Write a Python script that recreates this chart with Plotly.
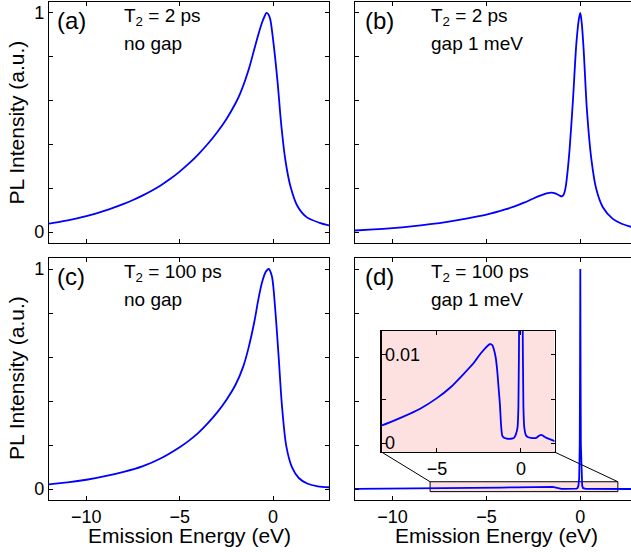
import plotly.graph_objects as go

# ---------------- data ----------------
# (a) T2 = 2 ps, no gap
xa = [-12, -11.5, -11, -10.5, -10, -9.5, -9, -8.5, -8, -7.5, -7, -6.5, -6, -5.5, -5, -4.5, -4,
      -3.5, -3, -2.5, -2, -1.75, -1.5, -1.25, -1.0, -0.8, -0.6, -0.45, -0.35, -0.25, -0.15,
      0.03, 0.25, 0.43, 0.66, 0.93, 1.3, 1.8, 2.5, 3.0]
ya = [0.038, 0.0449, 0.0528, 0.0619, 0.0723, 0.0841, 0.0974, 0.1122, 0.1285, 0.1464, 0.1663,
      0.1886, 0.2139, 0.2429, 0.2759, 0.3132, 0.355, 0.4018, 0.4546, 0.5151, 0.5889, 0.6345,
      0.6908, 0.757, 0.835, 0.897, 0.953, 0.985, 1.0, 0.994, 0.972, 0.86, 0.68, 0.50, 0.33,
      0.21, 0.12, 0.068, 0.042, 0.03]

# (b) T2 = 2 ps, gap 1 meV
xb = [-12, -11, -10, -9, -8, -7, -6, -5, -4, -3.5, -3, -2.5, -2.1, -1.8, -1.55, -1.3, -1.1,
      -0.98, -0.88, -0.78, -0.68, -0.57, -0.39, -0.21, -0.08, 0, 0.08, 0.18, 0.35, 0.59, 0.85,
      1.2, 1.73, 2.2, 2.75]
yb = [0.007, 0.012, 0.018, 0.026, 0.036, 0.048, 0.062, 0.079, 0.103, 0.117, 0.134, 0.153, 0.167,
      0.176, 0.18, 0.175, 0.166, 0.163, 0.172, 0.205, 0.275, 0.378, 0.604, 0.861, 0.97, 1.0, 0.95,
      0.83, 0.56, 0.332, 0.196, 0.113, 0.06, 0.038, 0.023]

# (c) T2 = 100 ps, no gap
xc = [-12, -11, -10, -9, -8, -7, -6, -5, -4.5, -4, -3.5, -3, -2.5, -2, -1.6, -1.3, -1.0, -0.8,
      -0.6, -0.4, -0.23, -0.06, 0.12, 0.30, 0.48, 0.71, 1.02, 1.38, 1.83, 2.4, 3.0]
yc = [0.021, 0.03, 0.042, 0.058, 0.078, 0.103, 0.14, 0.19, 0.22, 0.255, 0.298, 0.347, 0.405, 0.475,
      0.555, 0.645, 0.76, 0.855, 0.935, 0.985, 1.0, 0.967, 0.816, 0.604, 0.378, 0.196, 0.098, 0.05,
      0.025, 0.012, 0.008]

# (d) T2 = 100 ps, gap 1 meV (also shown in the inset)
xd = [-12, -11, -10, -9, -8.3, -7, -6, -5, -4.2, -3.43, -2.8, -2.42, -2.1, -1.86, -1.7, -1.62,
      -1.5, -1.41, -1.33, -1.25, -1.18, -1.11, -1.0, -0.81, -0.6, -0.41, -0.3, -0.2, -0.15,
      -0.1, -0.06, -0.03, -0.015, 0, 0.015, 0.03, 0.06, 0.1, 0.15, 0.2, 0.3, 0.4, 0.6, 0.91,
      1.05, 1.21, 1.35, 1.52, 1.8, 2.08, 2.4, 2.75]
yd = [0.0008, 0.0011, 0.0014, 0.0017, 0.002, 0.003, 0.0039, 0.0051, 0.0063, 0.0078, 0.0091, 0.0101,
      0.0108, 0.0112, 0.0111, 0.0107, 0.0097, 0.0082, 0.0063, 0.0044, 0.002, 0.00085, 0.0006, 0.0005,
      0.0005, 0.0006, 0.001, 0.0018, 0.004, 0.015, 0.05, 0.2, 0.5, 1.0, 0.5, 0.2, 0.05, 0.015, 0.004,
      0.0018, 0.0009, 0.0007, 0.0006, 0.0006, 0.0008, 0.00095, 0.0008, 0.0006, 0.0004, 0.0002,
      0.00015, 0.0001]

x_ticks = [-10, -5, 0]
x_ticktext = ["\u221210", "\u22125", "0"]
y_ticks = [0, 1]
y_ticktext = ["0", "1"]
y_minor_ticks = [0.2, 0.4, 0.6, 0.8]
inset_x_ticks = [-5, 0]
inset_x_ticktext = ["\u22125", "0"]
inset_y_ticks = [0, 0.01]
inset_y_ticktext = ["0", "0.01"]
inset_y_minor_ticks = [0.005]

panel_labels = ["(a)", "(b)", "(c)", "(d)"]
t2_labels = ["T<sub>2</sub> = 2 ps", "T<sub>2</sub> = 2 ps", "T<sub>2</sub> = 100 ps", "T<sub>2</sub> = 100 ps"]
gap_labels = ["no gap", "gap 1 meV", "no gap", "gap 1 meV"]
x_title = "Emission Energy (eV)"
y_title = "PL Intensity (a.u.)"

# ---------------- layout geometry ----------------
W, H = 631, 552
ML, MR, MT, MB = 49, 0, 2, 52
PW = W - ML - MR
PH = H - MT - MB


def pxx(px):
    return (px - ML) / PW


def pxy(py):
    return (H - MB - py) / PH


dom_left = [0, pxx(329)]
dom_right = [pxx(355), 1]
dom_top = [pxy(243), 1]
dom_bot = [0, pxy(258)]
inset_dom_x = [pxx(381.5), pxx(554.5)]
inset_dom_y = [pxy(452), pxy(331)]

range_left = [-12, 3]
range_right = [-12, 2.7]
range_y = [-0.05, 1.05]
inset_range_x = [-8.3, 2.0]
inset_range_y = [-0.001, 0.0127]
zoom_box_x = [-8, 2]
zoom_box_y = [-0.012, 0.033]

FONT = "Liberation Sans, Arial, Helvetica, sans-serif"
BLUE = "#0000ff"
PINK = "#fde1e1"

axis_common = dict(showline=True, linecolor="black", linewidth=1.2, ticks="inside",
                   ticklen=4, tickwidth=1, tickcolor="black", showgrid=False,
                   zeroline=False, tickfont=dict(size=18, color="black", family=FONT))
minor_y = dict(tickvals=y_minor_ticks, ticks="inside", ticklen=4, tickwidth=1,
               tickcolor="black", showgrid=False)
minor_inset_y = dict(tickvals=inset_y_minor_ticks, ticks="inside", ticklen=4, tickwidth=1,
                     tickcolor="black", showgrid=False)

fig = go.Figure()
line_smooth = dict(color=BLUE, width=1.8, shape="spline", smoothing=0.8)
fig.add_trace(go.Scatter(x=xa, y=ya, mode="lines", line=line_smooth, xaxis="x", yaxis="y"))
fig.add_trace(go.Scatter(x=xb, y=yb, mode="lines", line=line_smooth, xaxis="x2", yaxis="y2"))
fig.add_trace(go.Scatter(x=xc, y=yc, mode="lines", line=line_smooth, xaxis="x3", yaxis="y3"))
fig.add_trace(go.Scatter(x=xd, y=yd, mode="lines", line=dict(color=BLUE, width=1.8),
                         xaxis="x4", yaxis="y4"))
fig.add_trace(go.Scatter(x=xd, y=yd, mode="lines",
                         line=dict(color=BLUE, width=1.8, shape="spline", smoothing=0.5),
                         xaxis="x5", yaxis="y5"))

layout = dict(
    width=W, height=H, margin=dict(l=ML, r=MR, t=MT, b=MB, pad=0),
    paper_bgcolor="white", plot_bgcolor="white", showlegend=False,
    font=dict(family=FONT, color="black"), hovermode=False,
)
xaxes = {
    "xaxis": dict(domain=dom_left, range=range_left, anchor="y", mirror="ticks",
                  tickvals=x_ticks, ticktext=x_ticktext, showticklabels=False),
    "xaxis2": dict(domain=dom_right, range=range_right, anchor="y2", mirror="ticks",
                   tickvals=x_ticks, ticktext=x_ticktext, showticklabels=False),
    "xaxis3": dict(domain=dom_left, range=range_left, anchor="y3", mirror="ticks",
                   tickvals=x_ticks, ticktext=x_ticktext),
    "xaxis4": dict(domain=dom_right, range=range_right, anchor="y4", mirror="ticks",
                   tickvals=x_ticks, ticktext=x_ticktext),
    "xaxis5": dict(domain=inset_dom_x, range=inset_range_x, anchor="y5", mirror="ticks",
                   tickvals=inset_x_ticks, ticktext=inset_x_ticktext),
}
yaxes = {
    "yaxis": dict(domain=dom_top, range=range_y, anchor="x", mirror="ticks",
                  tickvals=y_ticks, ticktext=y_ticktext, minor=minor_y),
    "yaxis2": dict(domain=dom_top, range=range_y, anchor="x2", mirror=False,
                   tickvals=y_ticks, ticktext=y_ticktext, showticklabels=False, minor=minor_y),
    "yaxis3": dict(domain=dom_bot, range=range_y, anchor="x3", mirror="ticks",
                   tickvals=y_ticks, ticktext=y_ticktext, minor=minor_y),
    "yaxis4": dict(domain=dom_bot, range=range_y, anchor="x4", mirror=False,
                   tickvals=y_ticks, ticktext=y_ticktext, showticklabels=False, minor=minor_y),
    "yaxis5": dict(domain=inset_dom_y, range=inset_range_y, anchor="x5", mirror="ticks",
                   tickvals=inset_y_ticks, ticktext=inset_y_ticktext, minor=minor_inset_y,
                   ticklabelposition="inside", ticklabeloverflow="allow"),
}
for k, v in {**xaxes, **yaxes}.items():
    d = dict(axis_common)
    d.update(v)
    layout[k] = d
fig.update_layout(**layout)

# ---------------- shapes: zoom box, inset background, connectors ----------------
shapes = []
shapes.append(dict(type="rect", xref="x4", yref="y4", x0=zoom_box_x[0], x1=zoom_box_x[1],
                   y0=zoom_box_y[0], y1=zoom_box_y[1], fillcolor=PINK,
                   line=dict(color="black", width=1), layer="below"))
shapes.append(dict(type="rect", xref="x5", yref="y5", x0=inset_range_x[0], x1=inset_range_x[1],
                   y0=inset_range_y[0], y1=inset_range_y[1], fillcolor=PINK,
                   line=dict(width=0), layer="below"))


def x4_to_paper(x):
    return dom_right[0] + (x - range_right[0]) / (range_right[1] - range_right[0]) * (dom_right[1] - dom_right[0])


def y4_to_paper(y):
    return dom_bot[0] + (y - range_y[0]) / (range_y[1] - range_y[0]) * (dom_bot[1] - dom_bot[0])


for ix, zx in ((0, zoom_box_x[0]), (1, zoom_box_x[1])):
    shapes.append(dict(type="line", xref="paper", yref="paper",
                       x0=inset_dom_x[ix], y0=inset_dom_y[0],
                       x1=x4_to_paper(zx), y1=y4_to_paper(zoom_box_y[1]),
                       line=dict(color="black", width=1), layer="above"))
fig.update_layout(shapes=shapes)

# ---------------- annotations ----------------
ann = []
label_pos = [(55, 20), (363, 20), (55, 276), (363, 276)]
t2_pos = [(122, 17), (429, 17), (122, 273), (429, 273)]
gap_pos = [(122, 43), (429, 43), (122, 299), (429, 299)]
for i in range(4):
    ann.append(dict(text=panel_labels[i], x=pxx(label_pos[i][0]), y=pxy(label_pos[i][1]),
                    xref="paper", yref="paper", xanchor="left", yanchor="middle",
                    showarrow=False, font=dict(size=24, family=FONT, color="black")))
    ann.append(dict(text=t2_labels[i], x=pxx(t2_pos[i][0]), y=pxy(t2_pos[i][1]),
                    xref="paper", yref="paper", xanchor="left", yanchor="middle",
                    showarrow=False, font=dict(size=19, family=FONT, color="black")))
    ann.append(dict(text=gap_labels[i], x=pxx(gap_pos[i][0]), y=pxy(gap_pos[i][1]),
                    xref="paper", yref="paper", xanchor="left", yanchor="middle",
                    showarrow=False, font=dict(size=19, family=FONT, color="black")))
for cy in (122.5, 378):
    ann.append(dict(text=y_title, x=pxx(16), y=pxy(cy), xref="paper", yref="paper",
                    xanchor="center", yanchor="middle", textangle=-90, showarrow=False,
                    font=dict(size=21, family=FONT, color="black")))
for cx in (189, 496):
    ann.append(dict(text=x_title, x=pxx(cx), y=pxy(535), xref="paper", yref="paper",
                    xanchor="center", yanchor="middle", showarrow=False,
                    font=dict(size=21, family=FONT, color="black")))
fig.update_layout(annotations=ann)

fig.write_html("out.html", config={"displayModeBar": False, "staticPlot": True},
               post_script="document.body.style.margin='0';document.body.style.padding='0';")
